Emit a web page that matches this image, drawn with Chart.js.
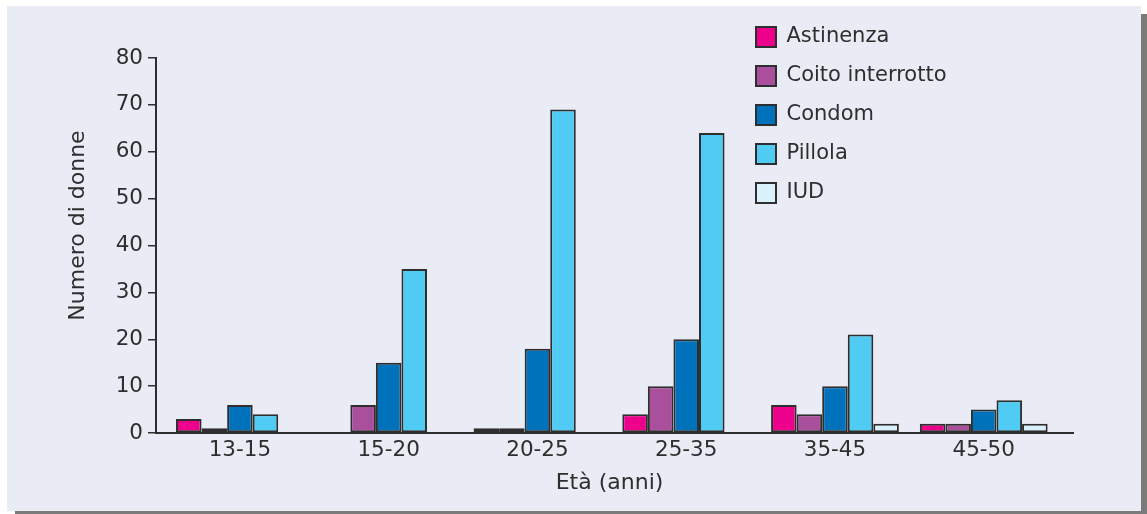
<!DOCTYPE html>
<html>
<head>
<meta charset="utf-8">
<script src="https://cdn.jsdelivr.net/npm/chart.js@4.4.0/dist/chart.umd.min.js"></script>
<style>
    html, body { margin: 0; padding: 0; background: #fff; }
    #wrap { position: relative; width: 1147px; height: 514px; overflow: hidden; }
    #panel { position: absolute; left: 7px; top: 6px; width: 1134px; height: 505px; background: #e9ecf5; box-shadow: 8px 8px 0 #7a7a7a; }
    #myChart { position: absolute; left: 0; top: 0; }
</style>
</head>
<body>
<div id="wrap">
    <div id="panel"></div>
    <canvas id="myChart" width="1147" height="514"></canvas>
</div>
<script>
var categories = ['13-15', '15-20', '20-25', '25-35', '35-45', '45-50'];
var astinenza = [3, 0, 1, 4, 6, 2];
var coitoInterrotto = [1, 6, 1, 10, 4, 2];
var condom = [6, 15, 18, 20, 10, 5];
var pillola = [4, 35, 69, 64, 21, 7];
var iud = [0, 0, 0, 0, 2, 2];
var yTicks = [0, 10, 20, 30, 40, 50, 60, 70, 80];

var ink = '#2e2e2e';
var fontFamily = "'DejaVu Sans', Verdana, sans-serif";
Chart.defaults.font.family = fontFamily;
Chart.defaults.font.size = 21.5;
Chart.defaults.color = ink;

// categories sit on index positions 0..5 of a linear axis
function toPoints(arr) {
    return arr.map(function (v, i) { return { x: i, y: v }; });
}

function bar(label, values, color) {
    return {
        label: label,
        data: toPoints(values),
        backgroundColor: color,
        borderColor: ink,
        borderWidth: 2,
        borderSkipped: false
    };
}

// move the legend into the upper right of the plot
var legendPlacer = {
    id: 'legendPlacer',
    afterLayout: function (chart) {
        chart.legend.left = 738;
        chart.legend.top = 8.5;
    }
};

// axis titles, placed like in the original figure
var axisTitles = {
    id: 'axisTitles',
    afterDraw: function (chart) {
        var c = chart.ctx;
        c.save();
        c.fillStyle = ink;
        c.font = '22px ' + fontFamily;
        c.textAlign = 'center';
        c.textBaseline = 'middle';
        c.fillText('Età (anni)', 609.5, 483);
        c.translate(78, 225.5);
        c.rotate(-Math.PI / 2);
        c.fillText('Numero di donne', 0, 0);
        c.restore();
    }
};

var ctx = document.getElementById('myChart').getContext('2d');
var myChart = new Chart(ctx, {
    type: 'bar',
    data: {
        datasets: [
            bar('Astinenza', astinenza, '#ec008c'),
            bar('Coito interrotto', coitoInterrotto, '#a94f9b'),
            bar('Condom', condom, '#0071bb'),
            bar('Pillola', pillola, '#4fcbf4'),
            bar('IUD', iud, '#d9f2fb')
        ]
    },
    options: {
        responsive: false,
        animation: false,
        categoryPercentage: 0.859,
        barPercentage: 1,
        layout: { padding: { left: 56, right: 74, top: 58, bottom: 18 } },
        plugins: {
            legend: {
                position: 'chartArea',
                align: 'start',
                labels: { boxWidth: 20, boxHeight: 20, padding: 18, color: ink, font: { size: 21 } }
            },
            tooltip: { enabled: false }
        },
        scales: {
            x: {
                type: 'linear',
                min: -0.564,
                max: 5.6,
                offset: false,
                afterBuildTicks: function (scale) {
                    scale.ticks = categories.map(function (c, i) { return { value: i }; });
                },
                afterFit: function (scale) {
                    scale.height = 63;
                    scale.paddingLeft = 0;
                    scale.paddingRight = 0;
                },
                ticks: {
                    autoSkip: false,
                    maxRotation: 0,
                    padding: 5,
                    color: ink,
                    callback: function (v) { return categories[v]; }
                },
                grid: { display: false, drawTicks: false },
                border: { display: true, color: ink, width: 2 }
            },
            y: {
                min: 0,
                max: 80,
                afterBuildTicks: function (scale) {
                    scale.ticks = yTicks.map(function (v) { return { value: v }; });
                },
                afterFit: function (scale) {
                    scale.width = 100;
                    scale.paddingTop = 0;
                    scale.paddingBottom = 0;
                },
                ticks: { padding: 5, color: ink },
                grid: { drawOnChartArea: false, drawTicks: true, tickLength: 8, color: ink, lineWidth: 1.5 },
                border: { display: true, color: ink, width: 2 }
            }
        }
    },
    plugins: [legendPlacer, axisTitles]
});
</script>
</body>
</html>
